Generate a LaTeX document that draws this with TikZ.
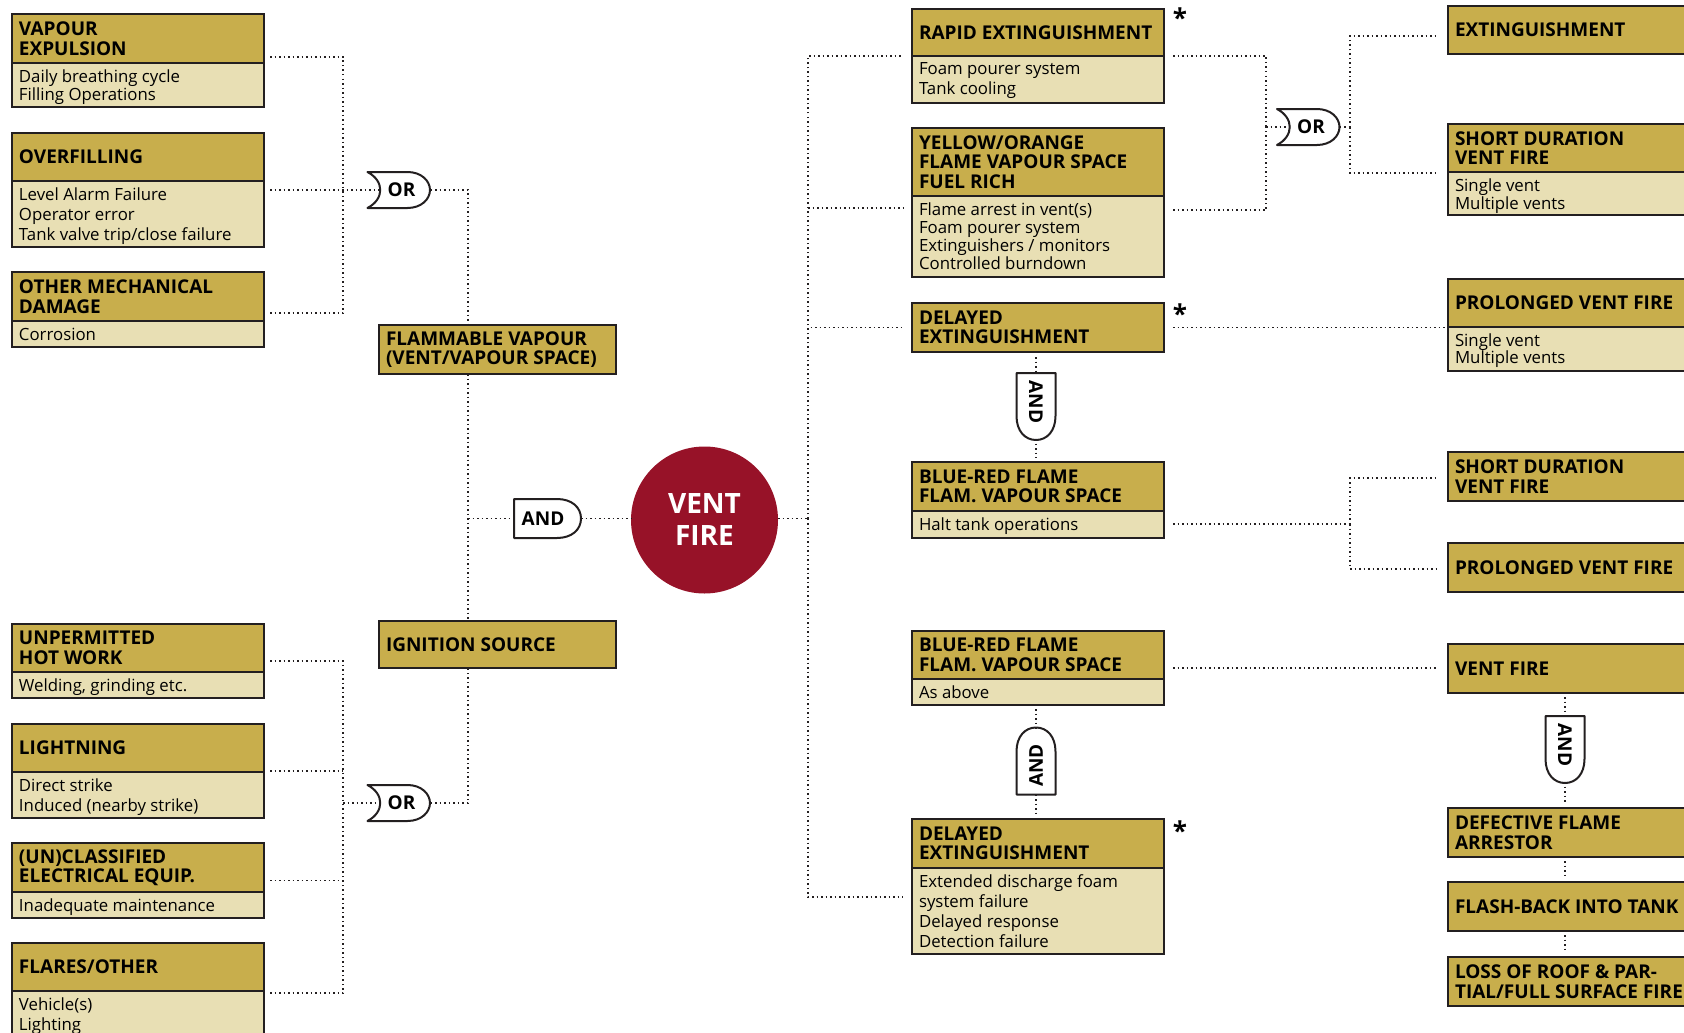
\documentclass[tikz,border=0pt]{standalone}
\usepackage{fontspec}
\setmainfont{Open Sans}
\usetikzlibrary{calc}
\definecolor{gold}{HTML}{C8AE4C}
\definecolor{pale}{HTML}{E8DFB4}
\definecolor{ventred}{HTML}{971228}
\definecolor{ink}{HTML}{231F20}
\tikzset{
 bxbody/.style={draw=ink, line width=2pt, fill=pale, rectangle, inner sep=0pt, outer sep=0pt},
 bxhead/.style={draw=ink, line width=2pt, fill=gold, rectangle, inner sep=0pt, outer sep=0pt},
 hdtext/.style={inner xsep=7pt, inner ysep=0pt, outer sep=0pt, align=left, font=\fontsize{19}{19.5}\selectfont\bfseries},
 bxtext/.style={inner xsep=7pt, inner ysep=7pt, outer sep=0pt, align=left},
 conn/.style={ink, line width=1.5pt, dash pattern=on 1.5pt off 3pt},
 gatelbl/.style={inner sep=0pt, font=\fontsize{19}{19}\selectfont\bfseries},
 gateline/.style={ink, line width=2pt, line join=round},
 starlbl/.style={inner sep=0pt, font=\fontsize{26}{26}\selectfont\bfseries},
 ventcirc/.style={circle, fill=ventred, minimum size=147pt, inner sep=0pt, text=white, align=center, font=\fontsize{28}{32}\selectfont\bfseries},
}
\newcommand\fbx[9][18]{%
 \node[bxbody, minimum width=#5pt, minimum height=#6pt, anchor=north west] (#2) at (#3,#4) {};
 \node[bxhead, minimum width=#5pt, minimum height=#7pt, anchor=north west] (#2-h) at (#3,#4) {};
 \node[hdtext, anchor=west] (#2-ht) at (#2-h.west) {#8};
 \node[bxtext, font=\fontsize{16.8}{#1}\selectfont, anchor=north west] (#2-t) at (#2-h.south west) {#9};
}
\newcommand\hbx[6]{%
 \node[bxhead, minimum width=#4pt, minimum height=#5pt, anchor=north west] (#1) at (#2,#3) {};
 \node[hdtext, anchor=west] (#1-ht) at (#1.west) {#6};
}
\newcommand\orgate[1]{\draw[gateline, shift={(#1.center)}] (-34,-18) -- (6,-18) .. controls (20,-18) and (28.5,-9) .. (28.5,0) .. controls (28.5,9) and (20,18) .. (6,18) -- (-34,18) .. controls (-17,9) and (-17,-9) .. (-34,-18) -- cycle;}
\newcommand\andgate[2]{\draw[gateline, shift={(#1.center)}, rotate=#2] (-29,-19.5) -- (14,-19.5) .. controls (29,-19.5) and (38,-11) .. (38,0) .. controls (38,11) and (29,19.5) .. (14,19.5) -- (-29,19.5) -- cycle;}
\begin{document}
\begin{tikzpicture}[x=1pt,y=-1pt]
\useasboundingbox (0,0) rectangle (1684,1033);
\clip (0,0) rectangle (1684,1033);
% left column
\fbx{vap}{12}{14}{252}{93}{49}{VAPOUR\\EXPULSION}{Daily breathing cycle\\Filling Operations}
\fbx[20]{ovf}{12}{133}{252}{114}{48}{OVERFILLING}{Level Alarm Failure\\Operator error\\Tank valve trip/close failure}
\fbx{omd}{12}{272}{252}{75}{49}{OTHER MECHANICAL\\DAMAGE}{Corrosion}
\fbx{hot}{12}{624}{252}{74}{48}{UNPERMITTED\\HOT WORK}{Welding, grinding etc.}
\fbx[20]{lig}{12}{724}{252}{94}{48}{LIGHTNING}{Direct strike\\Induced (nearby strike)}
\fbx{ucl}{12}{843}{252}{75}{49}{(UN)CLASSIFIED\\ELECTRICAL EQUIP.}{Inadequate maintenance}
\fbx[20]{fla}{12}{943}{252}{100}{48}{FLARES/OTHER}{Vehicle(s)\\Lighting}
% middle
\hbx{flam}{379}{325}{237}{49}{FLAMMABLE VAPOUR\\(VENT/VAPOUR SPACE)}
\hbx{ign}{379}{621}{237}{47}{IGNITION SOURCE}
\node[ventcirc] (vent) at (704.5,520) {VENT\\FIRE};
% right-middle
\fbx[20]{rap}{912}{9}{252}{94}{47}{RAPID EXTINGUISHMENT}{Foam pourer system\\Tank cooling}
\fbx{yel}{912}{128}{252}{149}{68}{YELLOW/ORANGE\\FLAME VAPOUR SPACE\\FUEL RICH}{Flame arrest in vent(s)\\Foam pourer system\\Extinguishers / monitors\\Controlled burndown}
\hbx{del1}{912}{303}{252}{49}{DELAYED\\EXTINGUISHMENT}
\fbx{br1}{912}{462}{252}{76}{49}{BLUE-RED FLAME\\FLAM. VAPOUR SPACE}{Halt tank operations}
\fbx{br2}{912}{631}{252}{74}{48}{BLUE-RED FLAME\\FLAM. VAPOUR SPACE}{As above}
\fbx[20]{del2}{912}{819}{252}{135}{49}{DELAYED\\EXTINGUISHMENT}{Extended discharge foam\\system failure\\Delayed response\\Detection failure}
\node[starlbl] (st1) at (1180,18) {*};
\node[starlbl] (st2) at (1180,314) {*};
\node[starlbl] (st3) at (1180,831) {*};
% right column
\hbx{ext}{1448}{6}{260}{48}{EXTINGUISHMENT}
\fbx[16.5]{shd1}{1448}{124}{260}{91}{48}{SHORT DURATION\\VENT FIRE}{Single vent\\Multiple vents}
\fbx[17]{pro1}{1448}{279}{260}{92}{48}{PROLONGED VENT FIRE}{Single vent\\Multiple vents}
\hbx{shd2}{1448}{452}{260}{49}{SHORT DURATION\\VENT FIRE}
\hbx{pro2}{1448}{543}{260}{49}{PROLONGED VENT FIRE}
\hbx{vf}{1448}{644}{260}{49}{VENT FIRE}
\hbx{def}{1448}{808}{260}{49}{DEFECTIVE FLAME\\ARRESTOR}
\hbx{fbk}{1448}{882}{260}{49}{FLASH-BACK INTO TANK}
\hbx{loss}{1448}{957}{260}{49}{LOSS OF ROOF \& PAR-\\TIAL/FULL SURFACE FIRE}
% gates
\node[gatelbl] (or1) at (401.5,190) {OR};
\node[gatelbl] (or2) at (401.5,803) {OR};
\node[gatelbl] (or3) at (1311,127) {OR};
\node[gatelbl] (and1) at (543,518.5) {AND};
\node[gatelbl, rotate=-90] (and2) at (1036,402) {AND};
\node[gatelbl, rotate=90] (and3) at (1036,765.5) {AND};
\node[gatelbl, rotate=-90] (and4) at (1565,745) {AND};
\orgate{or1}\orgate{or2}\orgate{or3}
\andgate{and1}{0}\andgate{and2}{-90}\andgate{and3}{90}\andgate{and4}{-90}
% junctions
\coordinate (j1) at (343,190);
\coordinate (j2) at (468,518.5);
\coordinate (j3) at (808,518.5);
\coordinate (j4) at (343,803);
\coordinate (j5) at (1266,127);
\coordinate (j6) at (1350,127);
\coordinate (j7) at (1350,524);
% left upper
\draw[conn] ([shift={(6,-3.5)}]vap.east) -| (j1);
\draw[conn] ([shift={(6,3.5)}]omd.east) -| (j1);
\draw[conn] ([xshift=6]ovf.east) -- ([xshift=-22]or1.center);
\draw[conn] ([xshift=29]or1.center) -| ([xshift=-29.5]flam.north);
\draw[conn] ([xshift=-29.5]flam.south) -- ([xshift=-29.5]ign.north);
\draw[conn] (j2) -- ([xshift=-29]and1.center);
\draw[conn] ([xshift=38]and1.center) -- (vent.west |- and1.center);
\draw[conn] (vent.east |- j3) -- (j3);
% left lower
\draw[conn] ([xshift=6]hot.east) -| (j4);
\draw[conn] ([xshift=6]fla.east) -| (j4);
\draw[conn] ([xshift=6]lig.east) -- (lig.east -| j4);
\draw[conn] ([xshift=6]ucl.east) -- (ucl.east -| j4);
\draw[conn] (j4) -- ([xshift=-22]or2.center);
\draw[conn] ([xshift=29]or2.center) -| ([xshift=-29.5]ign.south);
% trunk
\draw[conn] (j3) |- ([xshift=-9]rap.west);
\draw[conn] (j3) |- ([shift={(-9,5.5)}]yel.west);
\draw[conn] (j3) |- ([xshift=-9]del1.west);
\draw[conn] (j3) |- ([shift={(-9,10.5)}]del2.west);
% right upper
\draw[conn] ([xshift=9]rap.east) -| (j5);
\draw[conn] ([shift={(9,7.5)}]yel.east) -| (j5);
\draw[conn] (j5) -- ([xshift=-22]or3.center);
\draw[conn] ([xshift=28.5]or3.center) -- (j6);
\draw[conn] (j6) |- ([shift={(-10,6)}]ext.west);
\draw[conn] (j6) |- ([shift={(-10,3.5)}]shd1.west);
\draw[conn] ([xshift=9]del1.east) -- ([xshift=-3]del1.east -| pro1.west);
% delayed / blue-red chain
\draw[conn] ([shift={(-2,5)}]del1.south) -- ([shift={(0,-29)}]and2.center);
\draw[conn] ([shift={(0,37)}]and2.center) -- ([shift={(-2,-4)}]br1.north);
\draw[conn] ([shift={(9,24)}]br1.east) -- (j7);
\draw[conn] (j7) |- ([shift={(-10,1.5)}]shd2.west);
\draw[conn] (j7) |- ([shift={(-10,1.5)}]pro2.west);
\draw[conn] ([xshift=9]br2.east) -- ([xshift=-10]br2.east -| vf.west);
\draw[conn] ([shift={(-2,4)}]br2.south) -- ([shift={(0,-37)}]and3.center);
\draw[conn] ([shift={(0,29)}]and3.center) -- ([shift={(-2,-4)}]del2.north);
% vent fire chain
\draw[conn] ([shift={(117,4)}]vf.south west) -- ([shift={(0,-29)}]and4.center);
\draw[conn] ([shift={(0,37)}]and4.center) -- ([shift={(117,-4)}]def.north west);
\draw[conn] ([shift={(117,4)}]def.south west) -- ([shift={(117,-4)}]fbk.north west);
\draw[conn] ([shift={(117,4)}]fbk.south west) -- ([shift={(117,-4)}]loss.north west);
\end{tikzpicture}
\end{document}
